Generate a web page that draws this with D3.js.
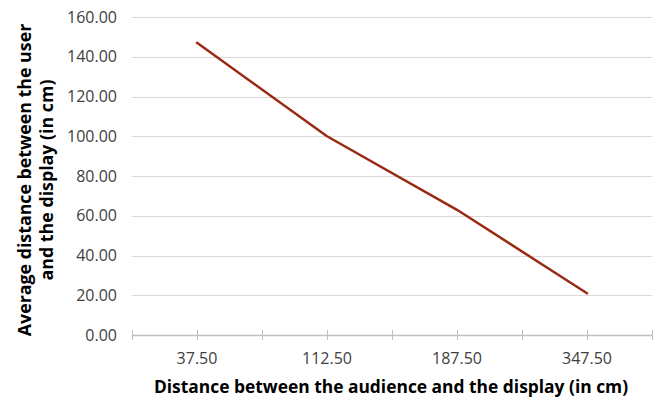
<!DOCTYPE html>
<html><head><meta charset="utf-8">
<script src="https://cdn.jsdelivr.net/npm/d3@7"></script>
<style>body{margin:0;background:#fff}svg{display:block}</style>
</head><body>
<svg id="c" width="657" height="401"></svg>
<script>
const categories = ["37.50","112.50","187.50","347.50"];
const values = [147, 100, 63, 21];
const yTicks = [0,20,40,60,80,100,120,140,160];
const xTitle = "Distance between the audience and the display (in cm)";
const yTitle = ["Average distance between the user","and the display (in cm)"];

const svg = d3.select("#c");
const L=132, R=652, T=17, B=335;
const x = d3.scaleBand().domain(categories).range([L,R]);
const y = d3.scaleLinear().domain([0,160]).range([B,T]);
const font = "'Open Sans', sans-serif";

// gridlines
svg.append("g").selectAll("line").data(yTicks.filter(d=>d>0)).join("line")
  .attr("x1",L).attr("x2",R).attr("y1",d=>Math.round(y(d))+0.5).attr("y2",d=>Math.round(y(d))+0.5)
  .attr("stroke","#d9d9d9").attr("stroke-width",1);

// y axis labels
svg.append("g").selectAll("text").data(yTicks).join("text")
  .attr("x",117).attr("y",d=>y(d)).attr("dy","0.35em").attr("text-anchor","end")
  .attr("font-family",font).attr("font-size",16).attr("fill","#404040")
  .text(d=>d.toFixed(2));

// x axis line & ticks
const ax = svg.append("g");
ax.append("line").attr("x1",L).attr("x2",R).attr("y1",B+0.5).attr("y2",B+0.5)
  .attr("stroke","#bfbfbf").attr("stroke-width",1.5);
const tickPos = [];
categories.forEach(c=>{tickPos.push(x(c)); tickPos.push(x(c)+x.bandwidth()/2);});
tickPos.push(R);
ax.selectAll("line.t").data(tickPos).join("line").attr("class","t")
  .attr("x1",d=>Math.round(d)+0.5).attr("x2",d=>Math.round(d)+0.5).attr("y1",B-5).attr("y2",B+5)
  .attr("stroke","#bfbfbf").attr("stroke-width",1);
ax.selectAll("text").data(categories).join("text")
  .attr("x",d=>x(d)+x.bandwidth()/2).attr("y",364).attr("text-anchor","middle")
  .attr("font-family",font).attr("font-size",16).attr("fill","#404040")
  .text(d=>d);

// line
const line = d3.line().x((d,i)=>x(categories[i])+x.bandwidth()/2).y(d=>y(d));
svg.append("path").datum(values).attr("d",line).attr("fill","none")
  .attr("stroke","#992a13").attr("stroke-width",2.5).attr("stroke-linejoin","round").attr("stroke-linecap","round");

// titles
svg.append("text").attr("x",391).attr("y",393).attr("text-anchor","middle")
  .attr("font-family",font).attr("font-weight","bold").attr("font-size",17.4).attr("fill","#000")
  .text(xTitle);
const yt = svg.append("text").attr("transform","translate(31,180) rotate(-90)")
  .attr("text-anchor","middle").attr("font-family",font).attr("font-weight","bold")
  .attr("font-size",17.8).attr("fill","#000");
yt.selectAll("tspan").data(yTitle).join("tspan").attr("x",0)
  .attr("y",(d,i)=>i===0?0:22).text(d=>d);
</script>
</body></html>
